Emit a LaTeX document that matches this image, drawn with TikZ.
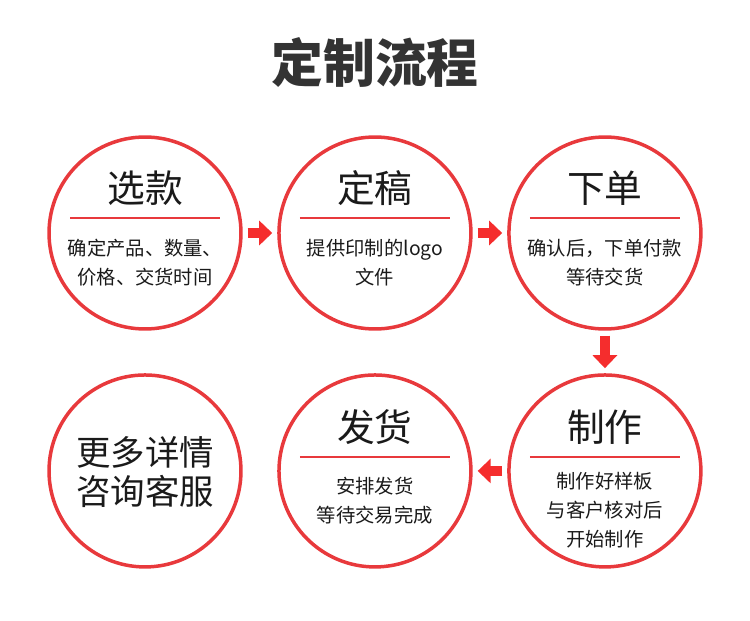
\documentclass[tikz,border=0pt]{standalone}
\usepackage{fontspec}
\newfontfamily\cjk{Noto Sans CJK SC}
\usepackage{tikz}
\usetikzlibrary{positioning, arrows.meta}
\usepackage{xcolor}
\definecolor{ringred}{HTML}{E8393C}
\definecolor{arrowred}{HTML}{F52D2D}
\definecolor{titlegray}{HTML}{333333}
\definecolor{textblack}{HTML}{1A1A1A}

\begin{document}
\begin{tikzpicture}[
  x=0.02cm, y=0.02cm,
  node distance=0.85cm and 0.69cm,
  stepcircle/.style={circle, draw=ringred, line width=0.07cm, minimum size=3.84cm, inner sep=0pt},
  head/.style={text=textblack, font={\cjk\fontsize{21.5pt}{26pt}\selectfont}},
  body/.style={text=textblack, align=center, font={\cjk\fontsize{11pt}{16.5pt}\selectfont}},
  more/.style={text=textblack, align=center, font={\cjk\fontsize{19.6pt}{22.2pt}\selectfont}},
  divider/.style={draw=ringred, line width=0.035cm},
  flow/.style={draw=arrowred, line width=0.2cm, -{Triangle[length=0.26cm, width=0.48cm]},
               shorten <=0.1cm, shorten >=0.1cm}
]
  \useasboundingbox (0,0) rectangle (750,620);

  % --- title ---
  \node[text=titlegray, font={\cjk\bfseries\fontsize{29.5pt}{34pt}\selectfont}] (title) at (375,558) {定制流程};

  % --- circles ---
  \node[stepcircle] (xuankuan) at (145,387) {};
  \node[stepcircle] (dinggao) [right=of xuankuan] {};
  \node[stepcircle] (xiadan) [right=of dinggao] {};
  \node[stepcircle] (zhizuo) [below=of xiadan] {};
  \node[stepcircle] (fahuo) [left=of zhizuo] {};
  \node[stepcircle] (zixun) [left=of fahuo] {};

  % --- contents ---
  \node[head] (xuankuan-h) at ([yshift=0.9cm]xuankuan.center) {选款};
  \draw[divider] ([xshift=-1.5cm, yshift=0.3cm]xuankuan.center) -- ([xshift=1.5cm, yshift=0.3cm]xuankuan.center);
  \node[body] (xuankuan-b) at ([yshift=-0.59cm]xuankuan.center) {确定产品、数量、\\价格、交货时间};

  \node[head] (dinggao-h) at ([yshift=0.9cm]dinggao.center) {定稿};
  \draw[divider] ([xshift=-1.5cm, yshift=0.3cm]dinggao.center) -- ([xshift=1.5cm, yshift=0.3cm]dinggao.center);
  \node[body] (dinggao-b) at ([yshift=-0.59cm]dinggao.center) {提供印制的logo\\文件};

  \node[head] (xiadan-h) at ([yshift=0.9cm]xiadan.center) {下单};
  \draw[divider] ([xshift=-1.5cm, yshift=0.3cm]xiadan.center) -- ([xshift=1.5cm, yshift=0.3cm]xiadan.center);
  \node[body] (xiadan-b) at ([yshift=-0.59cm]xiadan.center) {确认后，下单付款\\等待交货};

  \node[head] (zhizuo-h) at ([yshift=0.88cm]zhizuo.center) {制作};
  \draw[divider] ([xshift=-1.5cm, yshift=0.28cm]zhizuo.center) -- ([xshift=1.5cm, yshift=0.28cm]zhizuo.center);
  \node[body] (zhizuo-b) at ([yshift=-0.78cm]zhizuo.center) {制作好样板\\与客户核对后\\开始制作};

  \node[head] (fahuo-h) at ([yshift=0.88cm]fahuo.center) {发货};
  \draw[divider] ([xshift=-1.5cm, yshift=0.28cm]fahuo.center) -- ([xshift=1.5cm, yshift=0.28cm]fahuo.center);
  \node[body] (fahuo-b) at ([yshift=-0.6cm]fahuo.center) {安排发货\\等待交易完成};

  \node[more] (zixun-t) at ([yshift=-0.03cm]zixun.center) {更多详情\\咨询客服};

  % --- arrows ---
  \draw[flow] (xuankuan) -- (dinggao);
  \draw[flow] (dinggao) -- (xiadan);
  \draw[flow] (xiadan) -- (zhizuo);
  \draw[flow] (zhizuo) -- (fahuo);
\end{tikzpicture}
\end{document}
